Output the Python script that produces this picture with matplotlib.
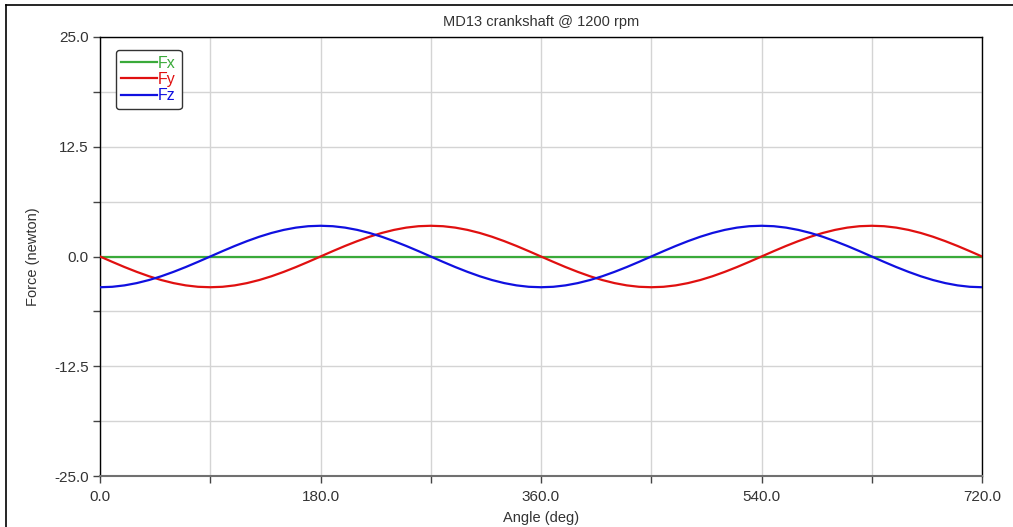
"""
Crankshaft force components over two revolutions.
"""

import matplotlib
matplotlib.use("Agg")
import matplotlib.pyplot as plt
from matplotlib.lines import Line2D

plt.rcParams['font.family'] = ['Liberation Sans', 'DejaVu Sans']

# values, every 10 deg
angle = list(range(0, 721, 10))
fz_rev = [-3.50, -3.45, -3.29, -3.03, -2.68, -2.25, -1.75, -1.20, -0.61, 0.00,
          0.61, 1.20, 1.75, 2.25, 2.68, 3.03, 3.29, 3.45, 3.50, 3.45,
          3.29, 3.03, 2.68, 2.25, 1.75, 1.20, 0.61, 0.00, -0.61, -1.20,
          -1.75, -2.25, -2.68, -3.03, -3.29, -3.45]
fy_rev = [0.00, -0.61, -1.20, -1.75, -2.25, -2.68, -3.03, -3.29, -3.45, -3.50,
          -3.45, -3.29, -3.03, -2.68, -2.25, -1.75, -1.20, -0.61, 0.00, 0.61,
          1.20, 1.75, 2.25, 2.68, 3.03, 3.29, 3.45, 3.50, 3.45, 3.29,
          3.03, 2.68, 2.25, 1.75, 1.20, 0.61]
Fz = fz_rev + fz_rev + [-3.50]
Fy = fy_rev + fy_rev + [0.00]
Fx = [0.0] * len(angle)

xticks = [0, 180, 360, 540, 720]
yticks = [-25, -12.5, 0, 12.5, 25]

fig = plt.figure(figsize=(10.13, 5.27), dpi=100)
ax = fig.add_axes([100 / 1013, 51 / 527, 882 / 1013, 439 / 527])

ax.plot(angle, Fx, color="#3aaa3a", lw=1.6, label="Fx", zorder=3)
ax.plot(angle, Fy, color="#e01010", lw=1.6, label="Fy", zorder=3)
ax.plot(angle, Fz, color="#1010e0", lw=1.6, label="Fz", zorder=3)

ax.set_xlim(0, 720)
ax.set_ylim(-25, 25)
ax.set_xticks(xticks)
ax.set_xticklabels([f"{v:.1f}" for v in xticks])
ax.set_xticks([90, 270, 450, 630], minor=True)
ax.set_yticks(yticks)
ax.set_yticklabels([f"{v:.1f}" for v in yticks])
ax.set_yticks([-18.75, -6.25, 6.25, 18.75], minor=True)

ax.grid(True, which="both", color="#d4d4d4", lw=1, zorder=0)
ax.tick_params(which="both", direction="out", length=5, width=1,
               labelsize=11, labelcolor="#333333", color="#444444", pad=3)
ax.tick_params(axis="x", pad=5)

for side in ("top", "right", "left"):
    ax.spines[side].set_color("black")
    ax.spines[side].set_linewidth(1)
ax.spines["bottom"].set_color("#707070")
ax.spines["bottom"].set_linewidth(1.5)

ax.set_title("MD13 crankshaft @ 1200 rpm", fontsize=10.5, color="#333333", pad=8)
ax.set_xlabel("Angle (deg)", fontsize=10.5, color="#333333", labelpad=5)
ax.set_ylabel("Force (newton)", fontsize=10.5, color="#333333", labelpad=10)

leg = ax.legend(loc="upper left", bbox_to_anchor=(0.018, 0.970),
                borderaxespad=0, fontsize=11.5, handlelength=2.2,
                handletextpad=0.1, labelspacing=0.08, borderpad=0.35,
                fancybox=True, framealpha=1, edgecolor="#333333",
                labelcolor="linecolor")
leg.get_frame().set_linewidth(1)

# outer border of the window
fig.add_artist(Line2D([6 / 1013, 1], [1 - 5 / 527, 1 - 5 / 527], color="black",
                      lw=1.2, transform=fig.transFigure))
fig.add_artist(Line2D([6 / 1013, 6 / 1013], [0, 1 - 5 / 527], color="black",
                      lw=1.2, transform=fig.transFigure))

fig.savefig("out.png", dpi=100)
